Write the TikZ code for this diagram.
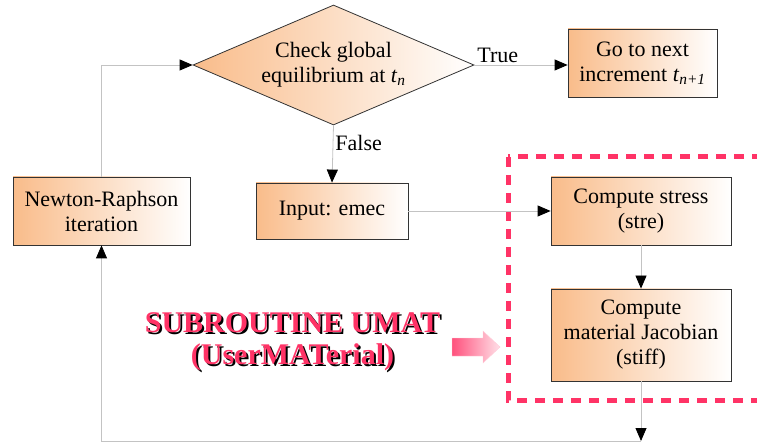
\documentclass[tikz,border=0pt]{standalone}
\usepackage{fontspec}
\setmainfont{Liberation Serif}
\usetikzlibrary{shapes.geometric,arrows.meta}
\definecolor{peach}{RGB}{249,188,138}
\definecolor{umatred}{RGB}{255,51,102}
\definecolor{linegray}{RGB}{195,195,195}

\begin{document}
\begin{tikzpicture}[x=1pt,y=-1pt,
  box/.style={draw=black!80,line width=0.8pt,left color=peach,right color=white,
    align=center,inner sep=0pt,font=\fontsize{22}{25}\selectfont},
  link/.style={draw=linegray,line width=0.8pt,-{Triangle[length=13pt,width=11pt,color=black]}},
  lbl/.style={font=\fontsize{22}{25}\selectfont,inner sep=2pt},
  umattext/.style={align=center,inner sep=0pt,font=\fontsize{30}{32}\selectfont\bfseries}]
\useasboundingbox (0,0) rectangle (757,443);

\node[box,diamond,aspect=2.34,inner sep=-6pt,minimum width=281pt,minimum height=120pt] (1) at (333.5,65) {Check global\\equilibrium at \textit{t}\textsubscript{\textit{n}}};

\node[box,minimum width=149pt,minimum height=68pt] (2) at (642.5,63) {Go to next\\increment \textit{t}\textsubscript{\textit{n+1}}};

\node[box,minimum width=152pt,minimum height=56pt] (3) at (332,211) {Input: emec};

\node[box,minimum width=177pt,minimum height=68pt] (4) at (101.5,211) {Newton-Raphson\\iteration};

\node[box,minimum width=180pt,minimum height=68pt] (5) at (641,211) {Compute stress\\(stre)};

\node[box,minimum width=180pt,minimum height=92pt] (6) at (641,335) {Compute\\material Jacobian\\(stiff)};

% user material part
\draw[umatred,line width=5pt,dash pattern=on 10pt off 8pt] (508,157) rectangle (770,400);
\node[umattext,black] (7) at (294.5,344) {SUBROUTINE UMAT\\(UserMATerial)};
\node[umattext,umatred] (8) at (292.5,342) {SUBROUTINE UMAT\\(UserMATerial)};
\shade[left color=umatred!85,right color=umatred!15,draw=umatred!25,line width=0.4pt]
  (452,338) -- (483,338) -- (483,331) -- (500,347) -- (483,363) -- (483,356) -- (452,356) -- cycle;

\coordinate (9) at (641,441);

\draw[link] (1.east) -- node[lbl,above,pos=0.25] {True} (1.east -| 2.west);
\draw[link] (1.south) -- node[lbl,right,pos=0.3] {False} (3.north);
\draw[link] (3) -- (5);
\draw[link] (5) -- (6);
\draw[link] (6) -- (9);
\draw[link] (9) -| (4.south);
\draw[link] (4.north) |- (1.west);
\end{tikzpicture}
\end{document}
